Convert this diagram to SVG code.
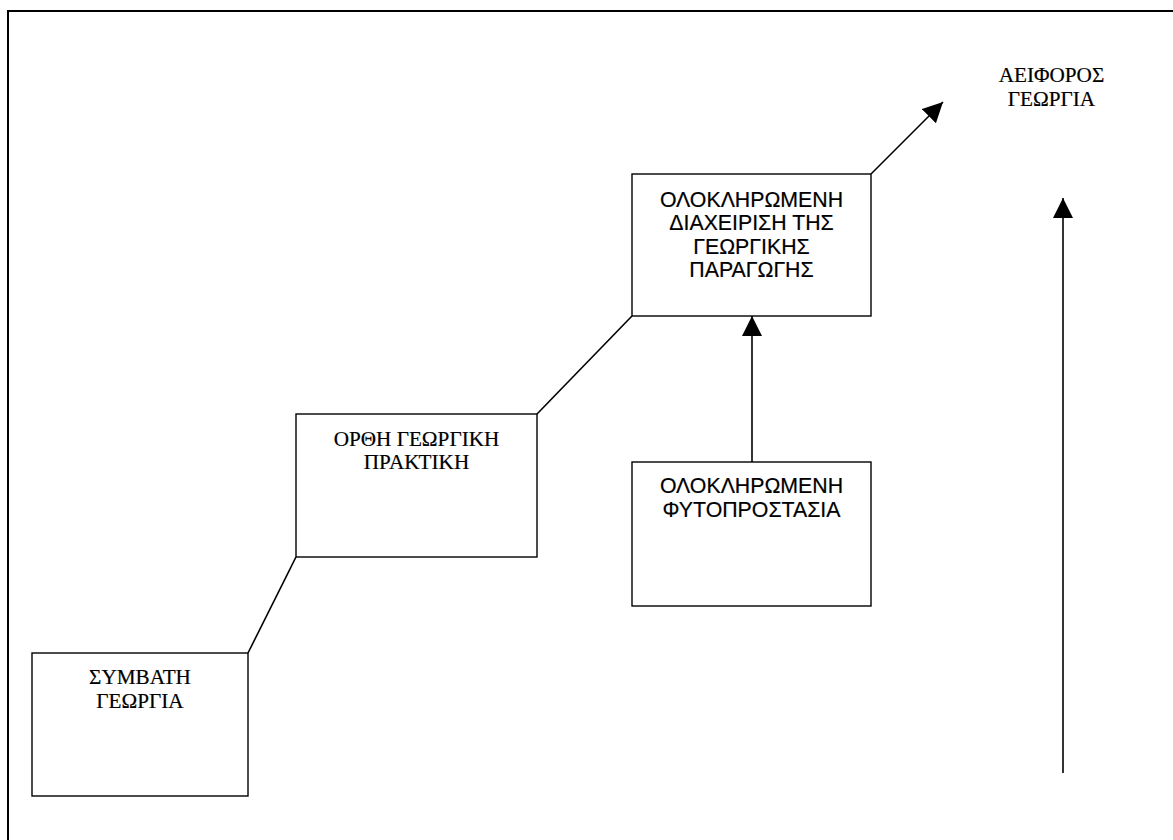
<svg xmlns="http://www.w3.org/2000/svg" width="1173" height="840" viewBox="0 0 1173 840">
  <style>
    .box { fill: #fff; stroke: #000; stroke-width: 1.4; }
    .serif { font-family: "Liberation Serif", "Times New Roman", serif; font-size: 21.2px; fill: #000; text-anchor: middle; stroke: #000; stroke-width: 0.2; }
    .sans { font-family: "Liberation Sans", Arial, sans-serif; font-size: 21.3px; fill: #000; text-anchor: middle; stroke: #000; stroke-width: 0.2; }
    .link { stroke: #000; stroke-width: 1.6; fill: none; }
  </style>
  <defs>
    <marker id="arrow" markerUnits="userSpaceOnUse" markerWidth="20" markerHeight="20" refX="20" refY="10" orient="auto" viewBox="0 0 20 20">
      <path d="M0,0 L20,10 L0,20 z" fill="#000"/>
    </marker>
  </defs>
  <rect width="1173" height="840" fill="#fff"/>
  <!-- page frame (right and bottom edges fall outside the view) -->
  <rect x="8" y="11" width="1200" height="900" fill="none" stroke="#000" stroke-width="2"/>

  <g id="connectors">
    <line class="link" x1="248" y1="653" x2="296" y2="557"/>
    <line class="link" x1="537" y1="414" x2="632" y2="316"/>
    <line class="link" x1="752" y1="462" x2="752" y2="316" marker-end="url(#arrow)"/>
    <line class="link" x1="871" y1="174" x2="943" y2="102" marker-end="url(#arrow)"/>
    <line class="link" x1="1063" y1="773" x2="1063" y2="198" marker-end="url(#arrow)"/>
  </g>

  <g id="node-symvati">
    <rect class="box" x="32" y="653" width="216" height="143"/>
    <text class="serif" x="140" y="684">ΣΥΜΒΑΤΗ</text>
    <text class="serif" x="140" y="708">ΓΕΩΡΓΙΑ</text>
  </g>

  <g id="node-orthi">
    <rect class="box" x="296" y="414" width="241" height="143"/>
    <text class="serif" x="416.5" y="446">ΟΡΘΗ ΓΕΩΡΓΙΚΗ</text>
    <text class="serif" x="416.5" y="469">ΠΡΑΚΤΙΚΗ</text>
  </g>

  <g id="node-diaxeirisi">
    <rect class="box" x="632" y="174" width="239" height="142"/>
    <text class="sans" x="751.5" y="207">ΟΛΟΚΛΗΡΩΜΕΝΗ</text>
    <text class="sans" x="751.5" y="230">ΔΙΑΧΕΙΡΙΣΗ ΤΗΣ</text>
    <text class="sans" x="751.5" y="253.5">ΓΕΩΡΓΙΚΗΣ</text>
    <text class="sans" x="751.5" y="277">ΠΑΡΑΓΩΓΗΣ</text>
  </g>

  <g id="node-fytoprostasia">
    <rect class="box" x="632" y="462" width="239" height="144"/>
    <text class="sans" x="751.5" y="493">ΟΛΟΚΛΗΡΩΜΕΝΗ</text>
    <text class="sans" x="751.5" y="517">ΦΥΤΟΠΡΟΣΤΑΣΙΑ</text>
  </g>

  <g id="label-aeiforos">
    <text class="serif" x="1051.5" y="82">ΑΕΙΦΟΡΟΣ</text>
    <text class="serif" x="1051.5" y="106">ΓΕΩΡΓΙΑ</text>
  </g>
</svg>
